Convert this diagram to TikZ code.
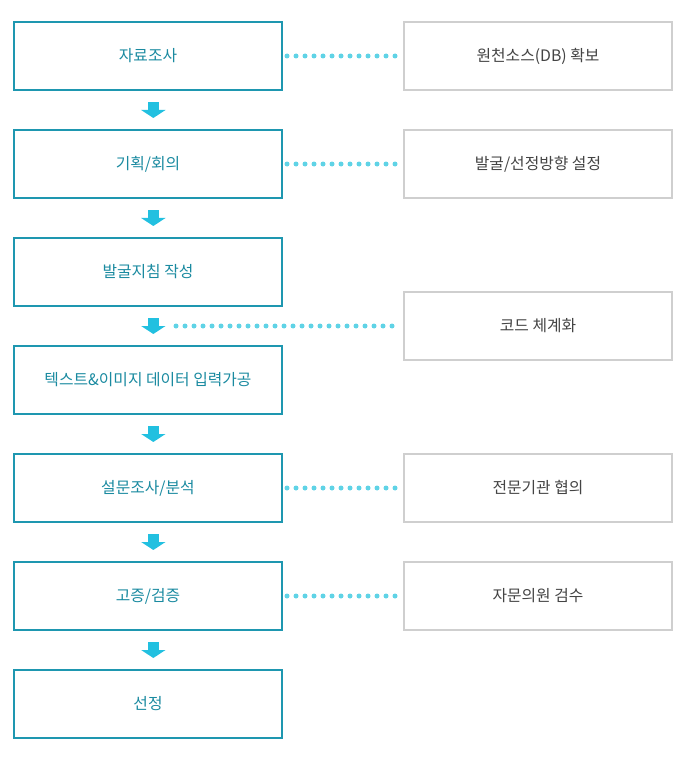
\documentclass[tikz,border=0pt]{standalone}
\usepackage{fontspec}
\setmainfont{Noto Sans CJK KR}
\usetikzlibrary{arrows.meta}
\definecolor{boxline}{HTML}{1E97B0}
\definecolor{boxtext}{HTML}{1A8AA0}
\definecolor{arrowcyan}{HTML}{22C0E0}
\definecolor{dotcyan}{HTML}{5FD3E6}
\definecolor{greyline}{HTML}{CFCFCF}
\definecolor{greytext}{HTML}{444444}

\tikzset{
  stage/.style={draw=boxline, line width=0.06cm, text=boxtext, minimum width=8.04cm, minimum height=2.04cm, inner sep=0pt, font=\fontsize{13.5}{15}\selectfont},
  extra/.style={draw=greyline, line width=0.05cm, text=greytext, minimum width=8.04cm, minimum height=2.04cm, inner sep=0pt, font=\fontsize{13.5}{15}\selectfont},
  flow/.style={arrowcyan, line width=0.33cm, -{Triangle[width=0.72cm,length=0.24cm]}, shorten <=0.33cm, shorten >=0.33cm},
  link/.style={dotcyan, line width=0.15cm, line cap=round, dash pattern=on 0pt off 0.27cm}
}

\begin{document}
\begin{tikzpicture}[x=0.03cm, y=-0.03cm]
\useasboundingbox (0,0) rectangle (693,759);
% left column
\node[stage] (s1) at (148,56) {자료조사};
\node[stage] (s2) at (148,164) {기획/회의};
\node[stage] (s3) at (148,272) {발굴지침 작성};
\node[stage] (s4) at (148,380) {텍스트\&이미지 데이터 입력가공};
\node[stage] (s5) at (148,488) {설문조사/분석};
\node[stage] (s6) at (148,596) {고증/검증};
\node[stage] (s7) at (148,704) {선정};
% right column
\node[extra] (r1) at (538,56) {원천소스(DB) 확보};
\node[extra] (r2) at (538,164) {발굴/선정방향 설정};
\node[extra] (r3) at (538,326) {코드 체계화};
\node[extra] (r4) at (538,488) {전문기관 협의};
\node[extra] (r5) at (538,596) {자문의원 검수};
\coordinate (mid) at (176,326);

\foreach \a/\b in {s1/s2,s2/s3,s3/s4,s4/s5,s5/s6,s6/s7}
  \draw[flow] ([xshift=0.16cm]\a.south) -- ([xshift=0.16cm]\b.north);

\foreach \a/\b in {s1/r1,s2/r2,s5/r4,s6/r5}
  \draw[link] ([xshift=0.12cm]\a.east) -- ([xshift=-0.12cm]\b.west);
\draw[link] (mid) -- ([xshift=-0.12cm]r3.west);
\end{tikzpicture}
\end{document}
